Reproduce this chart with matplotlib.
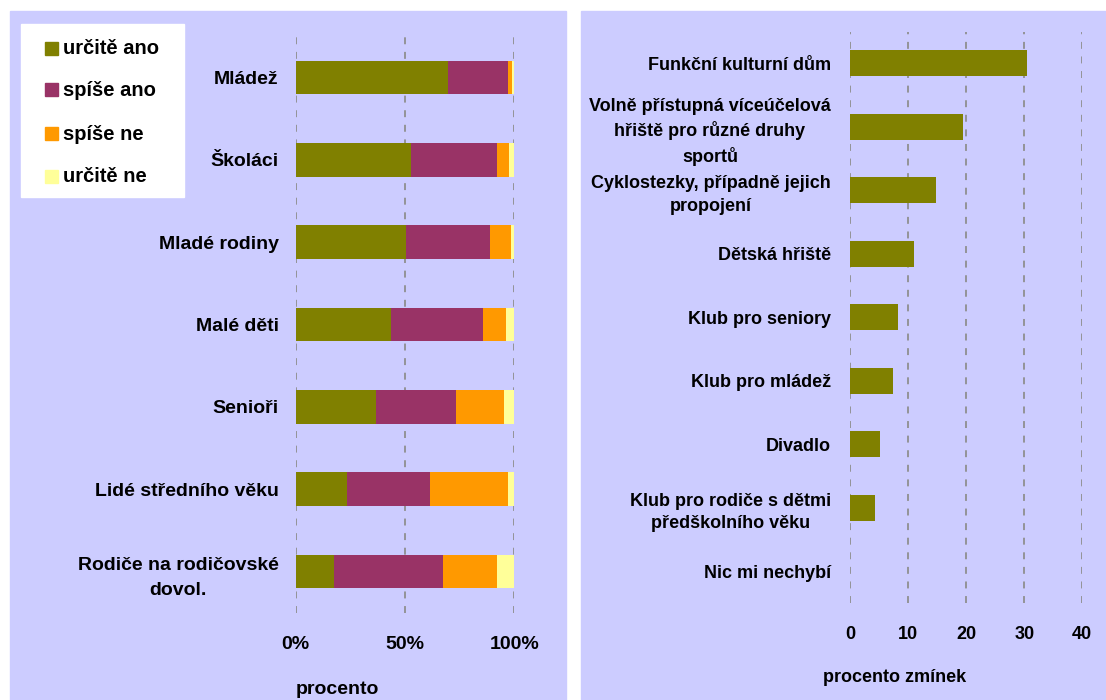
import matplotlib.pyplot as plt
from matplotlib.patches import Rectangle

# --- data ---------------------------------------------------------------
skupiny = [
    "Mládež",
    "Školáci",
    "Mladé rodiny",
    "Malé děti",
    "Senioři",
    "Lidé středního věku",
    "Rodiče na rodičovské\ndovol.",
]
odpovedi = ["určitě ano", "spíše ano", "spíše ne", "určitě ne"]
urcite_ano = [69.5, 53.0, 50.5, 43.5, 37.0, 23.5, 17.5]
spise_ano = [27.5, 39.0, 38.5, 42.0, 36.5, 38.0, 50.0]
spise_ne = [2.0, 5.5, 9.5, 10.5, 22.0, 35.5, 24.5]
urcite_ne = [1.0, 2.5, 1.5, 4.0, 4.5, 3.0, 8.0]
barvy = ["#808000", "#993366", "#FF9900", "#FFFF99"]

zarizeni = [
    "Funkční kulturní dům",
    "Volně přístupná víceúčelová\nhřiště pro různé druhy\nsportů",
    "Cyklostezky, případně jejich\npropojení",
    "Dětská hřiště",
    "Klub pro seniory",
    "Klub pro mládež",
    "Divadlo",
    "Klub pro rodiče s dětmi\npředškolního věku",
    "Nic mi nechybí",
]
zminky = [30.4, 19.5, 14.7, 10.9, 8.3, 7.4, 5.2, 4.3, 0.0]

W, H = 1106, 700
POZADI = "#CCCCFF"
plt.rcParams["font.family"] = ["Liberation Sans", "DejaVu Sans"]
plt.rcParams["font.weight"] = "bold"
plt.rcParams["lines.scale_dashes"] = False


def px(x, y, w, h):
    # prevod pixelu (od leveho horniho rohu) na souradnice obrazku
    return [x / W, 1 - (y + h) / H, w / W, h / H]


def mrizka(ax):
    ax.set_axisbelow(True)
    ax.xaxis.grid(True, color="#8f8f8f", linewidth=1.3, dashes=(5, 5.5))
    ax.yaxis.grid(False)
    for s in ax.spines.values():
        s.set_visible(False)
    ax.set_facecolor("none")
    ax.tick_params(length=0)
    ax.set_zorder(2)


fig = plt.figure(figsize=(W / 100, H / 100), dpi=100)
fig.patch.set_facecolor("white")

# podklady obou panelu
fig.patches.append(Rectangle((10 / W, 0), 556 / W, 1 - 11 / H,
                             transform=fig.transFigure, color=POZADI, zorder=-1))
fig.patches.append(Rectangle((581 / W, 0), 525 / W, 1 - 11 / H,
                             transform=fig.transFigure, color=POZADI, zorder=-1))

# --- levy graf: skladane pruhy ---------------------------------------
ax1 = fig.add_axes(px(295.5, 36.3, 218.8, 576.4))
y = list(range(len(skupiny)))
vlevo = [0.0] * len(skupiny)
for hodnoty, barva in zip([urcite_ano, spise_ano, spise_ne, urcite_ne], barvy):
    ax1.barh(y, hodnoty, left=vlevo, height=0.41, color=barva, linewidth=0)
    vlevo = [a + b for a, b in zip(vlevo, hodnoty)]
ax1.set_xlim(0, 100)
ax1.set_ylim(len(skupiny) - 0.5, -0.5)
ax1.set_xticks([0, 50, 100])
ax1.set_xticklabels(["0%", "50%", "100%"], fontsize=14, fontweight="bold")
ax1.set_yticks(y)
ax1.set_yticklabels(skupiny, fontsize=14, fontweight="bold",
                    multialignment="center", linespacing=1.65)
mrizka(ax1)
ax1.tick_params(axis="y", pad=12)
ax1.tick_params(axis="x", pad=17)
fig.text(337 / W, 1 - 689 / H, "procento", ha="center", va="center",
         fontsize=14, fontweight="bold")

# legenda
fig.patches.append(Rectangle((21 / W, 1 - 197 / H), 163 / W, 173 / H,
                             transform=fig.transFigure, color="white", zorder=3))
for i, (nazev, barva) in enumerate(zip(odpovedi, barvy)):
    yc = [48, 89, 133, 176][i]
    fig.patches.append(Rectangle((45 / W, 1 - (yc + 6.5) / H), 13 / W, 13 / H,
                                 transform=fig.transFigure, color=barva, zorder=4))
    fig.text(63 / W, 1 - (yc + 6.5) / H, nazev, ha="left", va="baseline",
             fontsize=14.5, fontweight="bold", zorder=5)

# --- pravy graf: chybejici zarizeni -----------------------------------
ax2 = fig.add_axes(px(850.3, 31.5, 232.0, 571.8))
y2 = list(range(len(zarizeni)))
ax2.barh(y2, zminky, height=0.41, color="#808000", linewidth=0)
ax2.set_xlim(0, 40)
ax2.set_ylim(len(zarizeni) - 0.5, -0.5)
ax2.set_xticks([0, 10, 20, 30, 40])
ax2.set_xticklabels(["0", "10", "20", "30", "40"], fontsize=13, fontweight="bold")
ax2.set_yticks(y2)
ax2.set_yticklabels(zarizeni, fontsize=13, fontweight="bold",
                    multialignment="center", linespacing=1.42)
mrizka(ax2)
ax2.tick_params(axis="y", pad=14)
ax2.tick_params(axis="x", pad=16)
fig.text(895 / W, 1 - 677 / H, "procento zmínek", ha="center", va="center",
         fontsize=13, fontweight="bold")

fig.savefig("out.png", dpi=100, facecolor=fig.get_facecolor())
